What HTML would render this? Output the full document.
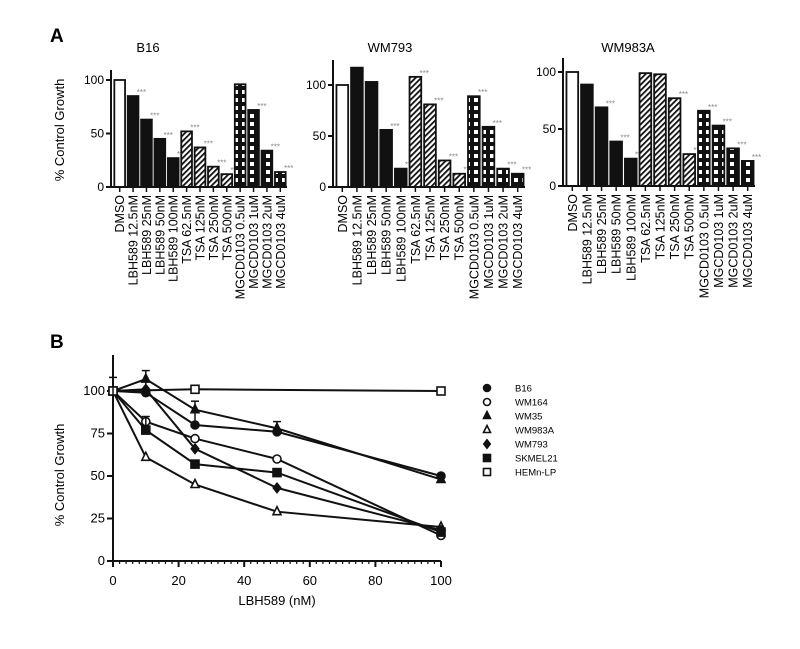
<!DOCTYPE html>
<html><head><meta charset="utf-8"><style>
body{margin:0;background:#fff;}
svg{display:block;font-family:"Liberation Sans",sans-serif;}
</style></head><body>
<svg id="c" width="800" height="649">
<defs>
<pattern id="hatch" patternUnits="userSpaceOnUse" width="4" height="4" patternTransform="rotate(45)"><rect width="4" height="4" fill="#fff"/><rect width="1.8" height="4" fill="#111"/></pattern>
<pattern id="grid" patternUnits="userSpaceOnUse" width="8" height="8"><rect width="8" height="8" fill="#111"/><rect x="2" y="2" width="4" height="4" fill="#fff"/></pattern>
</defs>
<text x="50" y="42" font-size="19" font-weight="bold">A</text>
<text x="50" y="348" font-size="19" font-weight="bold">B</text>
</svg>
<script>
const NS='http://www.w3.org/2000/svg';
const svg=document.getElementById('c');
function mk(t,a,p){const e=document.createElementNS(NS,t);for(const k in a)e.setAttribute(k,a[k]);(p||svg).appendChild(e);return e;}

const barCategories=['DMSO','LBH589 12.5nM','LBH589 25nM','LBH589 50nM','LBH589 100nM','TSA 62.5nM','TSA 125nM','TSA 250nM','TSA 500nM','MGCD0103 0.5uM','MGCD0103 1uM','MGCD0103 2uM','MGCD0103 4uM'];
const barFills=['#fff','#111','#111','#111','#111','url(#hatch)','url(#hatch)','url(#hatch)','url(#hatch)','url(#grid)','url(#grid)','url(#grid)','url(#grid)'];
const b16Values=[100,85,63,45,27,52,37,19,12,96,72,34,14];
const b16Sig=[0,1,1,1,1,1,1,1,1,0,1,1,1];
const wm793Values=[100,117,103,56,18,108,81,26,13,89,59,18,13];
const wm793Sig=[0,0,0,1,1,1,1,1,1,1,1,1,1];
const wm983aValues=[100,89,69,39,24,99,98,77,28,66,53,33,22];
const wm983aSig=[0,0,1,1,1,0,0,1,1,1,1,1,1];
const yTicksA=[0,50,100];

const panels=[
 {name:'b16',title:'B16',vals:b16Values,sig:b16Sig,ax:111,y0:187,ppu:1.07,x1:287,top:70,tx:148,ytitle:true},
 {name:'wm793',title:'WM793',vals:wm793Values,sig:wm793Sig,ax:333,y0:187,ppu:1.02,x1:525,top:60,tx:390},
 {name:'wm983a',title:'WM983A',vals:wm983aValues,sig:wm983aSig,ax:563,y0:186,ppu:1.14,x1:755,top:58,tx:628}
];
panels.forEach(p=>{
 const g=mk('g',{});
 
 
 const t=mk('text',{x:p.tx,y:52,'font-size':13,'text-anchor':'middle'},g);t.textContent=p.title;
 
 
 const n=p.vals.length, slot=(p.x1-p.ax-2)/n, bw=slot*0.8;
 const Y=v=>p.y0-v*p.ppu;
 p.vals.forEach((v,i)=>{
  const cx=p.ax+2+slot*(i+0.5);
  const r=mk('rect',{x:cx-bw/2,y:Y(v),width:bw,height:v*p.ppu,fill:barFills[i],stroke:'#111','stroke-width':1.8},g);
  
  
  if(p.sig[i]){const s=mk('text',{x:cx+bw/2+3,y:Y(v)-1,'font-size':8,fill:'#888','text-anchor':'middle'},g);s.textContent='***';
   
   }
  mk('line',{x1:cx,x2:cx,y1:p.y0,y2:p.y0+5,stroke:'#111','stroke-width':1.5},g);
  const l=mk('text',{transform:`translate(${cx+4.5},${p.y0+8}) rotate(-90)`,'font-size':12.5,'text-anchor':'end'},g);l.textContent=barCategories[i];
  
  
 });
 mk('line',{x1:p.ax,x2:p.x1,y1:p.y0,y2:p.y0,stroke:'#111','stroke-width':2},g);
 mk('line',{x1:p.ax,x2:p.ax,y1:p.top,y2:p.y0,stroke:'#111','stroke-width':2},g);
 yTicksA.forEach(v=>{
  mk('line',{x1:p.ax-5,x2:p.ax,y1:Y(v),y2:Y(v),stroke:'#111','stroke-width':2},g);
  const tt=mk('text',{x:p.ax-7,y:Y(v)+4,'font-size':12,'text-anchor':'end'},g);tt.textContent=v;
  
  
 });
 if(p.ytitle){const yt=mk('text',{transform:'translate(64,130) rotate(-90)','font-size':13,'text-anchor':'middle'},g);yt.textContent='% Control Growth';
  
  }
});

// Panel B
const doseX=[0,10,25,50,100];
const seriesNames=['B16','WM164','WM35','WM983A','WM793','SKMEL21','HEMn-LP'];
const seriesMarkers=['circle','ocircle','tri','otri','diamond','square','osquare'];
const b16Line=[100,99,80,76,50];
const wm164Line=[100,82,72,60,15];
const wm35Line=[100,107,89,78,48];
const wm983aLine=[100,61,45,29,20];
const wm793Line=[100,101,66,43,18];
const skmel21Line=[100,77,57,52,17];
const hemnLine=[100,null,101,null,100];
const lineSeries=[b16Line,wm164Line,wm35Line,wm983aLine,wm793Line,skmel21Line,hemnLine];
const xTicksB=[0,20,40,60,80,100];
const yTicksB=[0,25,50,75,100];

const bx0=113,bx1=441,by0=561,bppu=1.7;
const XB=v=>bx0+(v/100)*(bx1-bx0);
const YB=v=>by0-v*bppu;
const gb=mk('g',{});


mk('line',{x1:bx0,x2:bx0,y1:355,y2:by0,stroke:'#111','stroke-width':2},gb);
mk('line',{x1:bx0,x2:bx1,y1:by0,y2:by0,stroke:'#111','stroke-width':2},gb);
for(let v=0;v<=100;v+=2){mk('line',{x1:XB(v),x2:XB(v),y1:by0,y2:by0+(v%20===0?6:3),stroke:'#111','stroke-width':v%20===0?2:1.2},gb);}
xTicksB.forEach(v=>{const t=mk('text',{x:XB(v),y:by0+24,'font-size':13,'text-anchor':'middle'},gb);t.textContent=v;
 
 });
yTicksB.forEach(v=>{mk('line',{x1:bx0-6,x2:bx0,y1:YB(v),y2:YB(v),stroke:'#111','stroke-width':2},gb);
 const t=mk('text',{x:bx0-8,y:YB(v)+4,'font-size':13,'text-anchor':'end'},gb);t.textContent=v;
 
 });
const xt=mk('text',{x:277,y:605,'font-size':13,'text-anchor':'middle'},gb);xt.textContent='LBH589 (nM)';


const yt=mk('text',{transform:'translate(64,475) rotate(-90)','font-size':13,'text-anchor':'middle'},gb);yt.textContent='%  Control Growth';



function marker(kind,x,y,parent,s){
 s=s||4;let e;const fill=kind[0]==='o'?'#fff':'#111';
 if(kind.endsWith('circle'))e=mk('circle',{cx:x,cy:y,r:s,fill,stroke:'#111','stroke-width':1.6},parent);
 else if(kind.endsWith('tri'))e=mk('polygon',{points:`${x},${y-s-1} ${x-s},${y+s-1} ${x+s},${y+s-1}`,fill,stroke:'#111','stroke-width':1.6},parent);
 else if(kind==='diamond')e=mk('polygon',{points:`${x},${y-s-1} ${x+s},${y} ${x},${y+s+1} ${x-s},${y}`,fill,stroke:'#111','stroke-width':1.2},parent);
 else e=mk('rect',{x:x-s,y:y-s,width:2*s,height:2*s,fill,stroke:'#111','stroke-width':1.6},parent);
 return e;
}
lineSeries.forEach((vals,si)=>{
 const g=mk('g',{},gb);
 
 
 const pts=[];vals.forEach((v,i)=>{if(v!==null)pts.push([XB(doseX[i]),YB(v)]);});
 const pl=mk('polyline',{points:pts.map(p=>p.join(',')).join(' '),fill:'none',stroke:'#111','stroke-width':2},g);
 
 
 pts.forEach(p=>{const m=marker(seriesMarkers[si],p[0],p[1],g);
  
  });
});
// error bars (approx)
[[0,100,8],[10,107,5],[25,88,6],[50,78,4],[10,82,3]].forEach(e=>{
 const x=XB(e[0]);mk('line',{x1:x,x2:x,y1:YB(e[1]-e[2]),y2:YB(e[1]+e[2]),stroke:'#111','stroke-width':1.5},gb);
 mk('line',{x1:x-4,x2:x+4,y1:YB(e[1]+e[2]),y2:YB(e[1]+e[2]),stroke:'#111','stroke-width':1.5},gb);
});
// legend
const lg=mk('g',{});


seriesNames.forEach((n,i)=>{
 const y=388+i*14;
 const e=mk('g',{},lg);
 
 
 marker(seriesMarkers[i],487,y,e,3.5);
 const t=mk('text',{x:515,y:y+3.5,'font-size':9.5},e);t.textContent=n;
});
</script>
</body></html>
